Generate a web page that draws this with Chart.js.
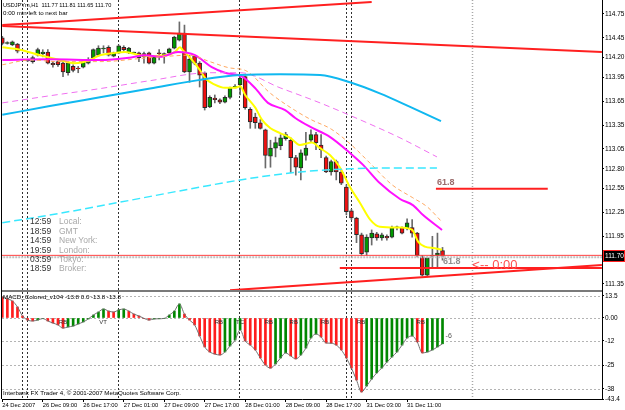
<!DOCTYPE html>
<html>
<head>
<meta charset="utf-8">
<script src="https://cdn.jsdelivr.net/npm/chart.js@4.4.1/dist/chart.umd.min.js"></script>
<style>
  html, body { margin: 0; padding: 0; background: #fff; }
  #wrap { position: relative; width: 625px; height: 410px; }
</style>
</head>
<body>
<div id="wrap"><canvas id="chart" width="625" height="410"></canvas></div>
<script>
// USDJPYm,H1 - price panel with MAs + MACD_Colored_v104 panel

// H1 bars, index 0 = 24 Dec 2007
const opens = [
  114.45, 114.38, 114.36, 114.37, 114.17, 114.16, 114.15, 114.23, 114.25, 114.27,
  114.13, 114.15, 114.13, 114.01, 114.09, 114.07, 114.08, 114.13, 114.20, 114.23,
  114.31, 114.33, 114.22, 114.26, 114.33, 114.26, 114.26, 114.26, 114.25, 114.26,
  114.13, 114.26, 114.23, 114.26, 114.32, 114.42, 114.51, 114.02, 114.22, 114.13,
  114.01, 113.58, 113.69, 113.67, 113.64, 113.70, 113.83, 113.86, 113.96, 113.55,
  113.45, 113.38, 113.29, 112.96, 113.06, 113.09, 113.18, 113.16, 112.94, 112.81,
  112.97, 113.16, 113.23, 113.10, 112.94, 112.76, 112.89, 112.76, 112.57, 112.27,
  112.18, 111.97, 111.75, 111.93, 111.98, 111.93, 111.95, 111.94, 112.06, 112.06,
  112.06, 112.06, 111.99, 111.69, 111.46, 111.70, 111.71, 111.77
];
const highs = [
  114.47, 114.40, 114.41, 114.38, 114.18, 114.17, 114.22, 114.32, 114.30, 114.30,
  114.15, 114.16, 114.15, 114.15, 114.11, 114.09, 114.16, 114.20, 114.31, 114.35,
  114.35, 114.35, 114.27, 114.36, 114.35, 114.33, 114.27, 114.27, 114.27, 114.27,
  114.22, 114.30, 114.26, 114.32, 114.47, 114.65, 114.61, 114.23, 114.23, 114.15,
  114.02, 113.72, 113.73, 113.68, 113.72, 113.83, 113.86, 113.96, 113.97, 113.57,
  113.50, 113.42, 113.30, 113.16, 113.20, 113.23, 113.26, 113.19, 112.97, 113.04,
  113.26, 113.29, 113.26, 113.23, 112.96, 112.91, 112.91, 112.79, 112.60, 112.29,
  112.19, 111.99, 111.97, 112.03, 112.00, 111.99, 111.97, 112.08, 112.08, 112.07,
  112.17, 112.16, 112.00, 111.71, 111.69, 111.95, 111.99, 111.81
];
const lows = [
  114.36, 114.37, 114.35, 114.26, 114.16, 114.15, 114.13, 114.22, 114.21, 114.12,
  114.08, 114.09, 113.96, 113.98, 114.02, 114.01, 114.07, 114.12, 114.18, 114.22,
  114.26, 114.22, 114.21, 114.25, 114.28, 114.25, 114.25, 114.15, 114.13, 114.12,
  114.12, 114.17, 114.13, 114.25, 114.31, 114.41, 114.01, 113.89, 114.11, 113.83,
  113.54, 113.57, 113.63, 113.62, 113.63, 113.68, 113.82, 113.73, 113.55, 113.31,
  113.31, 113.30, 112.81, 112.82, 112.95, 113.04, 113.16, 112.75, 112.72, 112.66,
  112.91, 113.14, 113.04, 112.94, 112.75, 112.72, 112.66, 112.60, 112.22, 112.16,
  111.87, 111.71, 111.71, 111.84, 111.90, 111.90, 111.90, 111.93, 112.03, 111.98,
  112.03, 111.94, 111.69, 111.45, 111.44, 111.56, 111.56, 111.65
];
const closes = [
  114.38, 114.39, 114.40, 114.28, 114.18, 114.17, 114.20, 114.30, 114.27, 114.13,
  114.11, 114.11, 114.02, 114.13, 114.04, 114.06, 114.15, 114.17, 114.30, 114.32,
  114.32, 114.23, 114.26, 114.35, 114.30, 114.32, 114.27, 114.20, 114.21, 114.13,
  114.21, 114.25, 114.25, 114.31, 114.46, 114.51, 114.02, 114.18, 114.13, 113.98,
  113.57, 113.70, 113.67, 113.64, 113.70, 113.82, 113.84, 113.94, 113.57, 113.39,
  113.38, 113.31, 112.97, 113.06, 113.13, 113.19, 113.23, 112.94, 112.82, 113.00,
  113.06, 113.23, 113.13, 113.04, 112.76, 112.89, 112.76, 112.62, 112.26, 112.18,
  111.97, 111.73, 111.94, 111.99, 111.93, 111.97, 111.93, 112.06, 112.07, 111.99,
  112.12, 111.99, 111.71, 111.46, 111.68, 111.71, 111.74, 111.70
];

// moving averages, [bar index, price]
const maYellow = [[0,114.33],[3.5,114.30],[7.5,114.23],[11.4,114.17],[14.4,114.13],[17.3,114.17],[19.3,114.23],
  [22.3,114.26],[24.3,114.27],[27.2,114.23],[29.2,114.22],[32.2,114.23],[34.1,114.27],[35.1,114.33],[35.7,114.29],
  [37.1,114.20],[39.1,114.04],[40.1,113.94],[42,113.86],[44,113.82],[46,113.82],[47,113.84],[48,113.73],[50,113.57],
  [51.3,113.42],[53,113.31],[54.9,113.25],[56.9,113.19],[58.8,113.10],[61.2,113.13],[62.8,113.06],[64.8,112.97],
  [66.7,112.82],[68.7,112.57],[70.7,112.37],[72.7,112.16],[74.6,112.07],[78.6,112.06],[81,112.03],[82.2,111.88],
  [83.5,111.82],[85.5,111.80],[86.9,111.78]];
const maMagenta = [[0,114.17],[9.4,114.18],[19.3,114.17],[25.2,114.20],[28.2,114.23],[31.2,114.21],[34.7,114.27],
  [38.1,114.23],[39.5,114.17],[41.4,114.08],[44,114.01],[47.4,113.96],[49.9,113.82],[52.5,113.63],[55.9,113.54],
  [57.9,113.44],[60.8,113.33],[64.8,113.20],[68.7,113.00],[71.3,112.85],[74.6,112.62],[78.6,112.42],[81.2,112.34],
  [83.1,112.22],[86.9,112.03]];
const maOrange = [[0,114.11],[5.5,114.17],[11.4,114.15],[19.3,114.15],[29.2,114.20],[37,114.23],[41,114.15],
  [45,114.07],[48,114.04],[53,113.75],[58,113.53],[61,113.42],[65,113.30],[69,113.10],[73,112.85],[77,112.60],
  [81,112.44],[84,112.32],[86.9,112.13]];
const maMagentaSlow = [[0,113.63],[9.4,113.72],[19.3,113.81],[29.2,113.91],[41,114.01],[47,114.01],[54.9,113.82],
  [62.8,113.63],[71.7,113.39],[78.6,113.19],[85.9,112.95]];
const maBlue = [[0,113.48],[9.4,113.59],[19.3,113.70],[29.2,113.81],[39.1,113.92],[47,113.98],[54.9,113.99],
  [62.8,113.98],[68.7,113.89],[74.6,113.75],[80.6,113.58],[86.7,113.40]];
const maCyan = [[0,112.12],[11.4,112.24],[23.3,112.38],[39.1,112.57],[49,112.68],[58.8,112.76],[68.7,112.80],
  [78.6,112.81],[85.9,112.81]];

// drawn objects
const trendTop = [[0,114.61],[73,114.90]];
const trendRes = [[0,114.60],[118.5,114.27]];
const trendSup = [[45,111.27],[118.5,111.59]];
const askLine = [[-1,111.71],[120,111.71]];
const bidLine = [[-1,111.685],[120,111.685]];
const levelLow = [[66.7,111.55],[118.5,111.55]];
const fibLine = [[85.7,112.55],[107.8,112.55]];
const vLines = [3.9, 4.9, 22.9, 46.8, 67.9, 68.9, 92.8];

// MACD_Colored values per bar
const macdVals = [
  11.2, 10.2, 9.1, 5.9, 1.1, -1.1, -1.6, -1.1, -0.3, -1.6,
  -2.7, -3.7, -5.4, -4.8, -4.3, -3.2, -2.1, -0.5, 1.6, 3.2,
  4.8, 3.7, 3.2, 4.3, 4.8, 3.7, 2.1, 1.1, -0.2, -1.1,
  -0.5, -0.4, -0.2, 1.6, 3.7, 7.5, 2.1, -1.1, -3.7, -9.6,
  -15.5, -18.2, -19.3, -19.8, -18.2, -15.0, -11.8, -6.4, -12.3, -14.5,
  -17.1, -21.4, -25.2, -26.8, -24.6, -21.4, -18.7, -20.3, -21.9, -19.8,
  -16.1, -10.7, -8.6, -10.2, -13.4, -13.5, -14.5, -17.1, -21.4, -26.8,
  -33.2, -39.6, -36.4, -32.7, -29.4, -26.8, -23.6, -20.9, -18.2, -14.5,
  -10.7, -9.6, -12.8, -18.7, -18.2, -17.1, -15.5, -13.8
];
const macdMarks = [[12,'RB'],[19.9,'VT'],[42.8,'RB'],[47,'TC'],[52.7,'RB'],[57.6,'RB'],[63.8,'RB'],[70.9,'RB'],[82.7,'RB']];

// axes
const priceTicks = [114.75, 114.45, 114.20, 113.95, 113.65, 113.35, 113.05, 112.80, 112.55, 112.25, 111.95, 111.65, 111.35];
const macdTicks = [11.8, 0, -12.3, -25.2, -38, -43.4];
const macdTickLabels = ['13.5', '0.00', '-12', '-25', '-38', '-43.4'];
const xTickIdx = [0, 8, 16, 24, 32, 40, 48, 56, 64, 72, 80];
const xTickLabels = ['24 Dec 2007', '26 Dec 09:00', '26 Dec 17:00', '27 Dec 01:00', '27 Dec 09:00', '27 Dec 17:00',
  '28 Dec 01:00', '28 Dec 09:00', '28 Dec 17:00', '31 Dec 03:00', '31 Dec 11:00'];

const sessions = [['12:59','Local:'],['18:59','GMT'],['14:59','New York:'],['19:59','London:'],['03:59','Tokyo:'],['18:59','Broker:']];

const FONT = '"Liberation Sans", Arial, sans-serif';
Chart.defaults.font.family = FONT;
Chart.defaults.animation = false;

const UP = '#009a00', DOWN = '#f01010';

function line(points, color, width, dash, axis) {
  return {
    type: 'line',
    yAxisID: axis || 'price',
    data: points.map(p => ({x: p[0], y: p[1]})),
    borderColor: color,
    borderWidth: width,
    borderDash: dash || [],
    pointRadius: 0,
    cubicInterpolationMode: 'monotone',
    fill: false,
    order: 1
  };
}

const wickData = lows.map((l, i) => ({x: i, y: [l, highs[i]]}));
const bodyData = opens.map((o, i) => ({x: i, y: [o, closes[i]]}));
const bodyColors = opens.map((o, i) => closes[i] >= o ? UP : DOWN);
const histColors = macdVals.map((v, i) => i > 0 && v > macdVals[i - 1] ? '#008800' : '#ff1c1c');

const overlay = {
  id: 'overlay',
  beforeDatasetsDraw(chart) {
    const {ctx, chartArea: a, scales} = chart;
    const m = scales.macd, xs = scales.x;
    ctx.save();
    ctx.lineWidth = 1;
    ctx.strokeStyle = '#b4b4b4';
    ctx.setLineDash([2, 2]);
    macdTicks.slice(0, -1).forEach(v => {
      const y = Math.round(m.getPixelForValue(v)) + 0.5;
      ctx.beginPath(); ctx.moveTo(a.left, y); ctx.lineTo(a.right, y); ctx.stroke();
    });
    vLines.forEach((v, k) => {
      const last = k === vLines.length - 1;
      const x = Math.round(xs.getPixelForValue(v)) + 0.5;
      ctx.strokeStyle = last ? '#a8a8a8' : '#303030';
      ctx.lineWidth = last ? 1.5 : 1;
      ctx.setLineDash(last ? [1, 2] : [2, 2]);
      ctx.beginPath(); ctx.moveTo(x, a.top); ctx.lineTo(x, a.bottom); ctx.stroke();
    });
    ctx.restore();
  },
  afterDatasetsDraw(chart) {
    const {ctx, chartArea: a, scales} = chart;
    const xs = scales.x, p = scales.price, m = scales.macd;
    ctx.save();
    ctx.textBaseline = 'middle';
    ctx.textAlign = 'left';
    // header
    ctx.fillStyle = '#000';
    ctx.font = '5.6px ' + FONT;
    ctx.fillText('USDJPYm,H1  111.77 111.81 111.65 111.70', 3, 5);
    ctx.font = '6.2px ' + FONT;
    ctx.fillText('0:00 min left to next bar', 3, 13);
    // session clock
    ctx.font = '8.5px ' + FONT;
    sessions.forEach((s, k) => {
      const y = 222 + k * 9.4;
      ctx.fillStyle = '#333';
      ctx.fillText(s[0], 30, y);
      ctx.fillStyle = '#a8a8a8';
      ctx.fillText(s[1], 59, y);
    });
    // fibo / timer labels
    ctx.font = 'bold 9px ' + FONT;
    ctx.fillStyle = '#9a6a6a';
    ctx.textBaseline = 'bottom';
    ctx.fillText('61.8', xs.getPixelForValue(85.9), p.getPixelForValue(112.565));
    ctx.textBaseline = 'middle';
    ctx.fillStyle = '#909090';
    ctx.fillText('61.8', xs.getPixelForValue(87.1), p.getPixelForValue(111.63));
    ctx.font = '13px ' + FONT;
    ctx.fillStyle = '#ff5050';
    ctx.fillText('<-- 0:00', xs.getPixelForValue(92.9), p.getPixelForValue(111.585));
    // MACD panel texts
    ctx.fillStyle = '#000';
    ctx.font = '6.2px ' + FONT;
    ctx.fillText('MACD_Colored_v104 -13.8 0.0 -13.8 -13.8', 3, m.top + 6);
    ctx.fillText('Interbank FX Trader 4, \u00a9 2001-2007 MetaQuotes Software Corp.', 3, a.bottom - 6);
    ctx.textAlign = 'center';
    ctx.fillStyle = '#333';
    ctx.font = '6px ' + FONT;
    macdMarks.forEach(([i, t]) => ctx.fillText(t, xs.getPixelForValue(i), m.getPixelForValue(-2.5)));
    ctx.textAlign = 'left';
    ctx.fillStyle = '#555';
    ctx.font = '7px ' + FONT;
    ctx.fillText('-6', xs.getPixelForValue(87.6), m.getPixelForValue(-9.6));
    ctx.restore();
  },
  afterDraw(chart) {
    const {ctx, chartArea: a, scales} = chart;
    const p = scales.price;
    ctx.save();
    // panel divider and frame
    ctx.fillStyle = '#7a7a7a';
    ctx.fillRect(a.left, Math.round(p.bottom) - 1, a.right - a.left, 2);
    ctx.fillStyle = '#000';
    ctx.fillRect(1, 0, 1, a.bottom);
    // current price box
    const y = Math.round(p.getPixelForValue(111.70));
    ctx.strokeStyle = '#ff2020';
    ctx.strokeRect(603.5, y - 5.5, 21, 11);
    ctx.fillStyle = '#000';
    ctx.fillRect(604, y - 5, 20, 10);
    ctx.fillStyle = '#fff';
    ctx.font = '6.5px ' + FONT;
    ctx.textBaseline = 'middle';
    ctx.textAlign = 'left';
    ctx.fillText('111.70', 605, y);
    ctx.restore();
  }
};

const noPad = s => { s.paddingTop = 0; s.paddingBottom = 0; s.paddingLeft = 0; s.paddingRight = 0; };

new Chart(document.getElementById('chart'), {
  type: 'bar',
  data: {
    datasets: [
      line(maCyan, '#38e8ff', 1.5, [8, 4]),
      line(maBlue, '#10b8f0', 2),
      line(maMagentaSlow, '#f070f0', 1, [6, 4]),
      line(maOrange, '#ffa860', 1, [4, 3]),
      line(maMagenta, '#ff10ff', 2),
      line(maYellow, '#ffff00', 2),
      line(trendTop, '#ff2020', 2),
      line(trendRes, '#ff2020', 2),
      line(trendSup, '#ff2020', 2),
      line(askLine, '#ff4040', 1),
      line(bidLine, '#c0c0c0', 2, [2, 1]),
      line(levelLow, '#ff2020', 2),
      line(fibLine, '#ff2020', 2),
      line(macdVals.map((v, i) => [i, v]), '#707070', 1, [], 'macd'),
      {
        type: 'bar', yAxisID: 'macd',
        data: macdVals.map((v, i) => ({x: i, y: v})),
        backgroundColor: histColors,
        barThickness: 2, grouped: false, order: 5
      },
      {
        type: 'bar', yAxisID: 'price',
        data: wickData,
        backgroundColor: '#6a6a6a',
        barThickness: 1, grouped: false, order: 11
      },
      {
        type: 'bar', yAxisID: 'price',
        data: bodyData,
        backgroundColor: bodyColors,
        borderColor: '#2a2a2a', borderWidth: 1, borderSkipped: false,
        barThickness: 4, grouped: false, order: 10
      }
    ]
  },
  options: {
    responsive: false,
    animation: false,
    events: [],
    layout: { padding: { left: 2, top: 0, right: 0, bottom: 0 } },
    plugins: { legend: { display: false }, tooltip: { enabled: false } },
    scales: {
      x: {
        type: 'linear', offset: false,
        min: -0.06, max: 118.52,
        afterBuildTicks: s => { s.ticks = xTickIdx.map(v => ({value: v})); },
        afterFit: s => { s.height = 11; noPad(s); },
        grid: { drawOnChartArea: false, tickLength: 3, color: '#000', offset: false },
        border: { color: '#000' },
        ticks: {
          autoSkip: false, maxRotation: 0, align: 'start', padding: 0,
          color: '#000', font: { size: 5.8 },
          callback: (v, i) => xTickLabels[i]
        }
      },
      price: {
        type: 'linear', position: 'right', stack: 'panels', stackWeight: 291,
        min: 111.261, max: 114.926,
        afterBuildTicks: s => { s.ticks = priceTicks.map(v => ({value: v})); },
        afterFit: s => { s.width = 23; noPad(s); },
        grid: { drawOnChartArea: false, tickLength: 2, color: '#000' },
        border: { color: '#000' },
        ticks: { autoSkip: false, padding: 1, color: '#000', font: { size: 6.5 }, callback: v => v.toFixed(2) }
      },
      macd: {
        type: 'linear', position: 'right', stack: 'panels', stackWeight: 108,
        min: -43.36, max: 14.45,
        afterBuildTicks: s => { s.ticks = macdTicks.map(v => ({value: v})); },
        afterFit: s => { s.width = 23; noPad(s); },
        grid: { drawOnChartArea: false, tickLength: 2, color: '#000' },
        border: { color: '#000' },
        ticks: { autoSkip: false, padding: 1, color: '#000', font: { size: 6.5 }, callback: (v, i) => macdTickLabels[i] }
      }
    }
  },
  plugins: [overlay]
});
</script>
</body>
</html>
